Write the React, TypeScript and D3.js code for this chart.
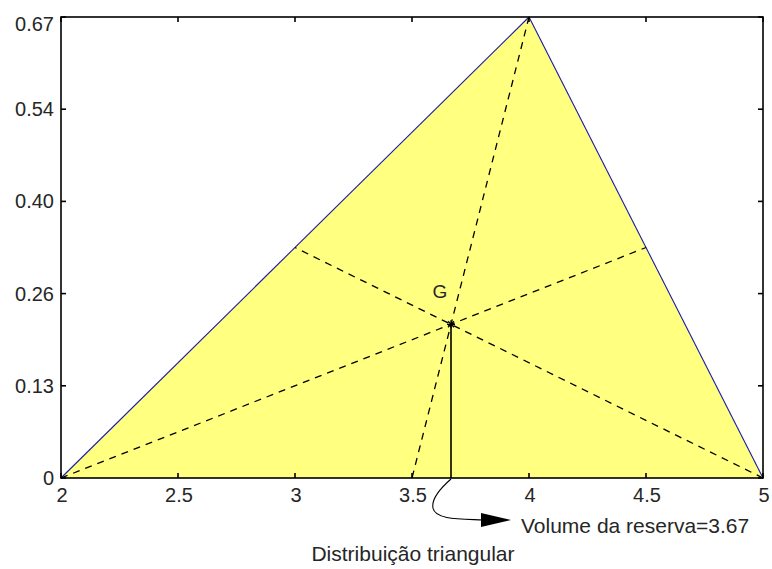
import React from "react";
import * as d3 from "d3";

const vertices: [number, number][] = [
  [2, 0],
  [4, 2 / 3],
  [5, 0],
];
const xTicks = [2, 2.5, 3, 3.5, 4, 4.5, 5];
const yTicks = [0, 2 / 15, 4 / 15, 6 / 15, 8 / 15, 10 / 15];
const yTickLabels = ["0", "0.13", "0.26", "0.40", "0.54", "0.67"];
const centroidX = 11 / 3;
const annotationText = "Volume da reserva=3.67";
const xLabel = "Distribuição triangular";

const W = 772;
const H = 569;
const L = 61,
  R = 763,
  T = 17,
  B = 478;

export default function App() {
  const x = d3.scaleLinear().domain([2, 5]).range([L, R]);
  const y = d3.scaleLinear().domain([0, 2 / 3]).range([B, T]);

  const line = d3
    .line<[number, number]>()
    .x((d) => x(d[0]))
    .y((d) => y(d[1]));

  const [A, Bv, C] = vertices;
  const mid = (p: [number, number], q: [number, number]): [number, number] => [
    (p[0] + q[0]) / 2,
    (p[1] + q[1]) / 2,
  ];
  const medians: [number, number][][] = [
    [A, mid(Bv, C)],
    [Bv, mid(A, C)],
    [C, mid(A, Bv)],
  ];
  const gx = (A[0] + Bv[0] + C[0]) / 3;
  const gy = (A[1] + Bv[1] + C[1]) / 3;

  const cx = x(centroidX);
  const cy0 = y(0);
  const font = "'Liberation Sans', Arial, sans-serif";
  const fs = 20;
  const tickLen = 5;
  const txt = "#262626";

  return (
    <svg
      width={W}
      height={H}
      style={{ position: "absolute", left: 0, top: 0, background: "#fff" }}
    >
      <rect x={0} y={0} width={W} height={H} fill="#fff" />
      <path d={line([...vertices, vertices[0]]) || ""} fill="#ffff80" stroke="none" />
      <path d={line([A, Bv]) || ""} fill="none" stroke="#1a1aa8" strokeWidth={1.1} />
      <path d={line([Bv, C]) || ""} fill="none" stroke="#1a1aa8" strokeWidth={1.1} />
      {medians.map((m, i) => (
        <path
          key={i}
          d={line(m) || ""}
          fill="none"
          stroke="#000"
          strokeWidth={1.3}
          strokeDasharray="7,6"
        />
      ))}
      <line x1={x(gx)} y1={y(gy)} x2={x(gx)} y2={cy0} stroke="#000" strokeWidth={1.6} />
      <g stroke="#000" strokeWidth={1.3}>
        <line x1={x(gx) - 4} y1={y(gy)} x2={x(gx) + 4} y2={y(gy)} />
        <line x1={x(gx)} y1={y(gy) - 4} x2={x(gx)} y2={y(gy) + 4} />
        <line x1={x(gx) - 3} y1={y(gy) - 3} x2={x(gx) + 3} y2={y(gy) + 3} />
        <line x1={x(gx) - 3} y1={y(gy) + 3} x2={x(gx) + 3} y2={y(gy) - 3} />
      </g>
      <text x={x(gx) - 11} y={y(gy) - 26} fontFamily={font} fontSize={19} textAnchor="middle" fill={txt}>
        G
      </text>
      <rect x={L} y={T} width={R - L} height={B - T} fill="none" stroke="#000" strokeWidth={1.6} />
      {xTicks.map((t, i) => (
        <g key={"x" + i}>
          <line x1={x(t)} y1={B} x2={x(t)} y2={B - tickLen} stroke="#000" strokeWidth={1.6} />
          <line x1={x(t)} y1={T} x2={x(t)} y2={T + tickLen} stroke="#000" strokeWidth={1.6} />
          <text x={x(t) + 1} y={B + 24} fontFamily={font} fontSize={fs} textAnchor="middle" fill={txt}>
            {String(t)}
          </text>
        </g>
      ))}
      {yTicks.map((t, i) => (
        <g key={"y" + i}>
          <line x1={L} y1={y(t)} x2={L + tickLen} y2={y(t)} stroke="#000" strokeWidth={1.6} />
          <line x1={R} y1={y(t)} x2={R - tickLen} y2={y(t)} stroke="#000" strokeWidth={1.6} />
          <text
            x={L - 7}
            y={i === yTicks.length - 1 ? y(t) + 14 : y(t) + 7}
            fontFamily={font}
            fontSize={fs}
            textAnchor="end"
            fill={txt}
          >
            {yTickLabels[i]}
          </text>
        </g>
      ))}
      <path
        d={`M${cx},${cy0 + 1} C${cx - 8},${cy0 + 8} ${cx - 20},${cy0 + 20} ${cx - 18},${cy0 + 30} C${cx - 16},${cy0 + 42} ${cx + 10},${cy0 + 41} ${cx + 32},${cy0 + 42}`}
        fill="none"
        stroke="#000"
        strokeWidth={1.1}
      />
      <polygon
        points={`${cx + 30},${cy0 + 35} ${cx + 60},${cy0 + 42} ${cx + 30},${cy0 + 49}`}
        fill="#000"
      />
      <text x={cx + 70} y={cy0 + 55} fontFamily={font} fontSize={21} fill={txt}>
        {annotationText}
      </text>
      <text x={(L + R) / 2 + 1} y={B + 83} fontFamily={font} fontSize={21} textAnchor="middle" fill={txt}>
        {xLabel}
      </text>
    </svg>
  );
}
